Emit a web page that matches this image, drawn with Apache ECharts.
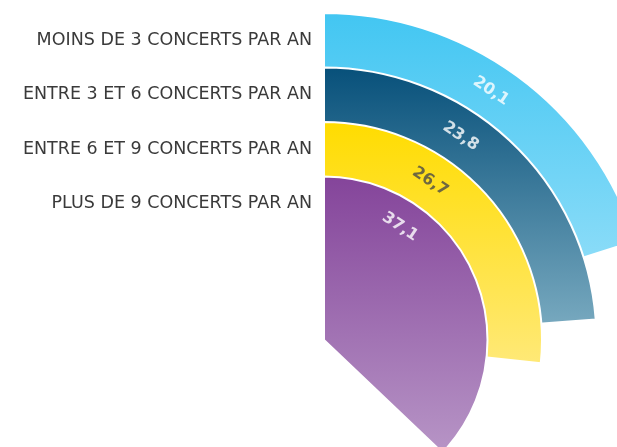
<!DOCTYPE html>
<html><head><meta charset="utf-8">
<script src="https://cdn.jsdelivr.net/npm/echarts@6/dist/echarts.min.js"></script>
<style>html,body{margin:0;padding:0;background:#fff}#c{width:617px;height:447px}</style>
</head><body><div id="c"></div>
<script>
// Data (outermost first)
const categories = ['MOINS DE 3 CONCERTS PAR AN', 'ENTRE 3 ET 6 CONCERTS PAR AN', 'ENTRE 6 ET 9 CONCERTS PAR AN', 'PLUS DE 9 CONCERTS PAR AN'];
const values = [20.1, 23.8, 26.7, 37.1];
const bandIndex = [5, 4, 3, 2]; // radial band (outer edge = index+1 sixths)

const CENTER = [324, 340], R = 327, BANDS = 6;
const colors = [
  ['#42c6f2', '#a2e3fa'],
  ['#07507a', '#7eaec3'],
  ['#ffdc00', '#ffe977'],
  ['#84449a', '#b795c6']
];
const labelColors = ['#ffffff', '#ffffff', '#4a4a4a', '#ffffff'];

const radiusLabels = new Array(BANDS).fill('');
categories.forEach((c, i) => { radiusLabels[bandIndex[i]] = c; });

const grad = (c) => new echarts.graphic.LinearGradient(0, 0, 0, 1, [{offset: 0, color: c[0]}, {offset: 1, color: c[1]}]);

const pies = values.map((v, i) => ({
  type: 'pie', silent: true, center: CENTER,
  radius: [0, R * (bandIndex[i] + 1) / BANDS],
  startAngle: 90, clockwise: true,
  label: {show: false}, labelLine: {show: false},
  emphasis: {disabled: true},
  data: [
    {value: v, itemStyle: {color: grad(colors[i]), borderColor: '#fff', borderWidth: 2}},
    {value: 100 - v, itemStyle: {color: 'rgba(0,0,0,0)', borderWidth: 0}}
  ]
}));

const chart = echarts.init(document.getElementById('c'), null, {renderer: 'canvas'});
chart.setOption({
  animation: false,
  polar: {center: CENTER, radius: R},
  angleAxis: {type: 'value', min: 0, max: 100, startAngle: 90, clockwise: true, show: false},
  radiusAxis: {
    type: 'category', data: radiusLabels,
    axisLine: {show: false}, axisTick: {show: false}, splitLine: {show: false},
    axisLabel: {show: true, interval: 0, margin: 12, color: '#3a3a3a', fontSize: 17.5, fontFamily: 'DejaVu Sans', fontWeight: 'normal'}
  },
  series: pies.concat([{
    type: 'scatter', coordinateSystem: 'polar', silent: true, symbolSize: 0, z: 10,
    data: values.map((v, i) => ({
      value: [bandIndex[i], 9.4],
      label: {color: labelColors[i]}
    })),
    label: {
      show: true, position: 'inside', rotate: -34,
      fontFamily: 'DejaVu Sans', fontWeight: 'bold', fontSize: 16,
      formatter: (p) => values[p.dataIndex].toFixed(1).replace('.', ',')
    }
  }])
});
</script></body></html>
